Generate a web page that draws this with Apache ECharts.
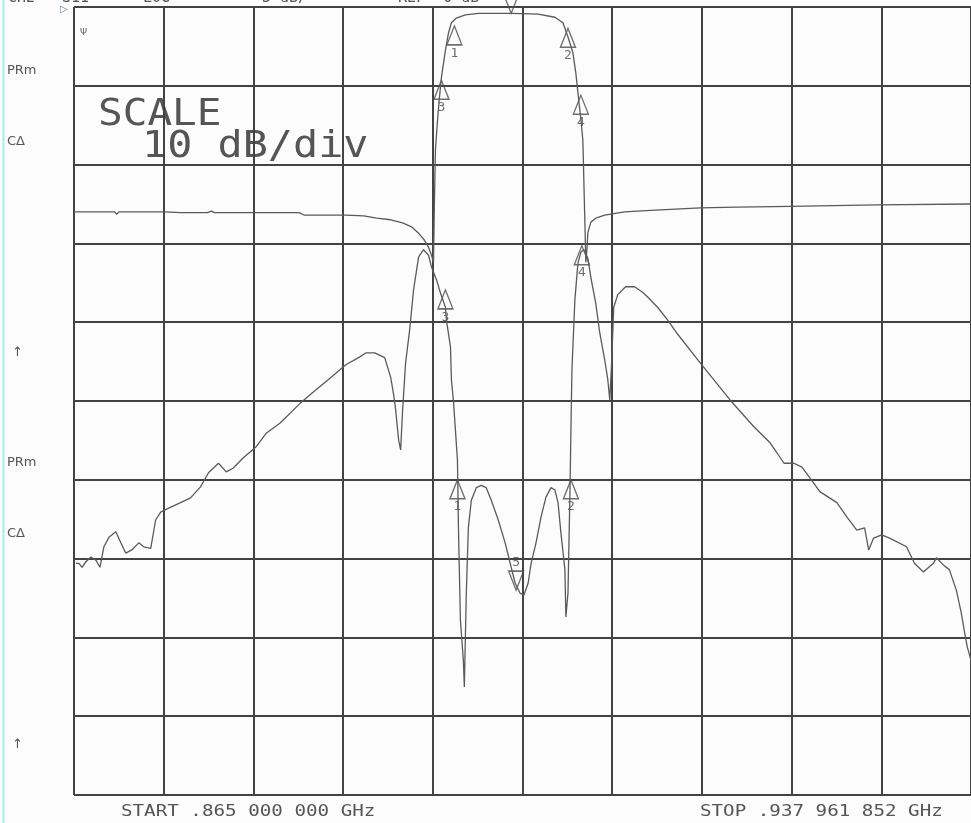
<!DOCTYPE html>
<html><head><meta charset="utf-8">
<script src="https://cdn.jsdelivr.net/npm/echarts@6/dist/echarts.min.js"></script>
<style>html,body{margin:0;padding:0;background:#fcfcfc;} #main{width:971px;height:823px;}</style>
</head><body><div id="main"></div>
<script>
// ---- sweep / labels ----
const START_MHZ = 865.0;
const STOP_MHZ = 937.961852;
const startLabel = 'START .865 000 000 GHz';
const stopLabel = 'STOP .937 961 852 GHz';
const scaleLine1 = 'SCALE';
const scaleLine2 = '10 dB/div';
const sideLabels = ['PRm', 'CΔ', '↑', 'PRm', 'CΔ', '↑'];
const headerLabels = ['CH2', 'S11', 'LOG', '5 dB/', 'REF  0 dB'];

// ---- upper trace (transmission) : frequency MHz / level dB ----
const s21Freq = [865.00, 867.11, 868.32, 868.48, 868.65, 872.37, 873.67, 875.85, 876.18, 876.42,
  883.31, 883.71, 887.11, 888.57, 889.62, 890.76, 891.73, 892.46, 893.03, 893.51,
  893.84, 894.08, 894.24, 894.32, 894.40, 894.57, 894.73, 894.89, 895.21, 895.46,
  895.70, 896.10, 896.83, 897.89, 900.56, 902.75, 904.12, 904.77, 905.18, 905.58,
  905.82, 905.99, 906.23, 906.39, 906.47, 906.55, 906.63, 906.72, 906.80, 907.04,
  907.44, 908.17, 909.79, 911.90, 915.95, 918.95, 923.24, 930.29, 937.96];
const s21Db = [-26.0, -26.0, -26.0, -26.3, -26.0, -26.0, -26.1, -26.1, -25.9, -26.1,
  -26.1, -26.4, -26.4, -26.5, -26.8, -27.0, -27.4, -27.9, -28.7, -29.6,
  -30.5, -31.5, -32.4, -24.5, -18.1, -14.3, -11.4, -8.9, -5.5, -3.3,
  -2.0, -1.4, -1.0, -0.8, -0.8, -0.9, -1.3, -2.0, -3.8, -5.8,
  -8.4, -10.9, -14.3, -16.9, -22.0, -27.0, -32.4, -30.8, -28.6, -27.3,
  -26.8, -26.4, -26.0, -25.8, -25.5, -25.4, -25.3, -25.1, -25.0];

// ---- lower trace (reflection) ----
const s11Freq = [865.16, 865.41, 865.65, 865.97, 866.38, 866.78, 867.11, 867.43, 867.84, 868.40,
  868.81, 869.21, 869.70, 870.27, 870.67, 871.24, 871.64, 872.05, 872.70, 873.67,
  874.48, 875.29, 875.94, 876.75, 877.39, 877.96, 878.77, 879.82, 880.63, 881.77,
  883.39, 884.44, 885.82, 887.11, 888.25, 888.73, 889.46, 890.27, 890.76, 891.00,
  891.16, 891.41, 891.57, 891.73, 891.97, 892.30, 892.62, 893.03, 893.43, 893.59,
  893.84, 894.08, 894.48, 894.81, 895.21, 895.29, 895.62, 895.70, 895.86, 896.19,
  896.27, 896.43, 896.67, 896.75, 896.91, 897.08, 897.32, 897.72, 898.13, 898.53,
  898.94, 899.51, 900.07, 900.48, 900.88, 901.29, 901.61, 901.94, 902.18, 902.58,
  902.99, 903.39, 903.80, 904.12, 904.37, 904.61, 904.93, 905.01, 905.18, 905.26,
  905.34, 905.42, 905.50, 905.74, 905.99, 906.23, 906.47, 906.80, 907.04, 907.44,
  907.77, 908.17, 908.42, 908.58, 908.74, 908.90, 909.23, 909.87, 910.60, 911.25,
  911.66, 912.47, 913.28, 914.09, 915.95, 918.38, 920.32, 921.62, 922.19, 922.75,
  923.56, 924.21, 924.78, 925.67, 927.05, 927.86, 928.67, 929.31, 929.64, 930.04,
  930.69, 931.34, 932.72, 933.36, 934.09, 934.90, 935.15, 935.71, 936.20, 936.77,
  937.17, 937.50, 937.66, 937.96];
const s11Db = [-70.6, -70.6, -71.1, -70.4, -69.8, -70.2, -71.1, -68.5, -67.3, -66.6,
  -68.0, -69.3, -68.9, -68.0, -68.5, -68.7, -65.1, -64.1, -63.6, -62.9,
  -62.3, -60.9, -59.1, -57.9, -59.0, -58.5, -57.2, -55.8, -54.1, -52.8,
  -50.3, -48.9, -47.1, -45.4, -44.4, -43.9, -43.9, -44.5, -47.0, -49.2,
  -51.1, -55.0, -56.2, -51.1, -45.2, -41.0, -35.9, -31.7, -30.8, -30.7,
  -31.5, -33.0, -34.6, -36.3, -38.1, -39.7, -43.1, -47.3, -49.9, -57.5,
  -66.0, -77.8, -82.9, -86.3, -74.4, -66.0, -62.6, -61.0, -60.7, -61.0,
  -62.6, -65.1, -68.0, -70.6, -73.1, -74.4, -74.6, -73.1, -70.6, -68.0,
  -64.7, -62.2, -61.0, -61.3, -62.9, -66.8, -71.4, -77.4, -74.4, -68.0,
  -61.7, -53.7, -46.1, -37.2, -32.5, -31.1, -30.8, -31.9, -34.3, -37.6,
  -41.4, -44.8, -47.3, -49.9, -44.8, -38.1, -36.5, -35.5, -35.5, -36.2,
  -36.8, -38.1, -39.7, -41.5, -45.2, -49.9, -53.3, -55.3, -56.6, -57.9,
  -57.9, -58.4, -59.6, -61.5, -62.9, -64.7, -66.4, -66.1, -68.9, -67.4,
  -67.0, -67.4, -68.5, -70.6, -71.7, -70.6, -69.9, -70.8, -71.4, -74.0,
  -76.9, -79.9, -81.2, -82.9];

// ---- markers ----
const s21MarkerNames = ['1', '2', '3', '4'];
const s21MarkerFreq = [895.94, 905.18, 894.89, 906.23];
const s21MarkerDb = [-2.4, -2.7, -9.3, -11.2];
const s11MarkerNames = ['3', '4', '1', '2'];
const s11MarkerFreq = [895.21, 906.31, 896.19, 905.42];
const s11MarkerDb = [-35.9, -30.3, -60.0, -60.0];
const downMarkerNames = ['', '5'];
const downMarkerFreq = [900.56, 900.96];
const downMarkerDb = [-0.8, -74.0];

// ---- build ----
const zip = (xs, ys) => xs.map((x, i) => [x, ys[i]]);
const mk = (names, xs, ys) => names.map((n, i) => ({ name: n, value: [xs[i], ys[i]] }));

const GRID_COLOR = '#434343';
const TRACE_COLOR = '#5a5a5a';
const INK = '#4a4a4a';

const upTri = 'path://M10,0 L20,26 L0,26 Z';
const downTri = 'path://M0,0 L20,0 L10,26 Z';
const markerLabel = { show: true, formatter: p => p.name, fontFamily: 'DejaVu Sans Mono', fontSize: 13, color: INK };

const chart = echarts.init(document.getElementById('main'), null, { renderer: 'canvas' });
const option = {
  backgroundColor: '#fcfcfc',
  animation: false,
  grid: { left: 74, right: -4, top: 7, bottom: 28, containLabel: false },
  xAxis: [
    { type: 'value', min: START_MHZ, max: STOP_MHZ, show: false },
    { type: 'value', min: 0, max: 10, interval: 1, axisLine: { show: false }, axisTick: { show: false },
      axisLabel: { show: false }, splitLine: { show: true, lineStyle: { color: GRID_COLOR, width: 2 } } }
  ],
  yAxis: [
    { type: 'value', min: -100, max: 0, interval: 10, axisLine: { show: false }, axisTick: { show: false },
      axisLabel: { show: false }, splitLine: { show: true, lineStyle: { color: GRID_COLOR, width: 2 } } }
  ],
  series: [
    { type: 'line', xAxisIndex: 0, yAxisIndex: 0, data: zip(s21Freq, s21Db), showSymbol: false,
      lineStyle: { color: TRACE_COLOR, width: 1.3 }, silent: true },
    { type: 'line', xAxisIndex: 0, yAxisIndex: 0, data: zip(s11Freq, s11Db), showSymbol: false,
      lineStyle: { color: TRACE_COLOR, width: 1.3 }, silent: true },
    { type: 'scatter', xAxisIndex: 0, yAxisIndex: 0, data: mk(s21MarkerNames, s21MarkerFreq, s21MarkerDb).concat(mk(s11MarkerNames, s11MarkerFreq, s11MarkerDb)),
      symbol: upTri, symbolSize: [15, 19], symbolOffset: [0, 9.5],
      itemStyle: { color: 'rgba(0,0,0,0)', borderColor: INK, borderWidth: 1.4 },
      label: Object.assign({ position: 'bottom', distance: 1 }, markerLabel), silent: true },
    { type: 'scatter', xAxisIndex: 0, yAxisIndex: 0, data: mk(downMarkerNames, downMarkerFreq, downMarkerDb),
      symbol: downTri, symbolSize: [15, 19], symbolOffset: [0, -9.5], clip: false,
      itemStyle: { color: 'rgba(0,0,0,0)', borderColor: INK, borderWidth: 1.4 },
      label: Object.assign({ position: 'top', distance: 1 }, markerLabel), silent: true }
  ],
  graphic: [
    { type: 'line', shape: { x1: 3.5, y1: 0, x2: 3.5, y2: 823 }, style: { stroke: '#a8ecec', lineWidth: 2 }, silent: true },
    { type: 'text', x: 98, y: 115, scaleX: 1.08,
      style: { text: scaleLine1, font: '38px "DejaVu Sans Mono"', fill: '#555', textVerticalAlign: 'middle' } },
    { type: 'text', x: 142, y: 147, scaleX: 1.1,
      style: { text: scaleLine2, font: '38px "DejaVu Sans Mono"', fill: '#555', textVerticalAlign: 'middle' } },
    { type: 'text', x: 121, y: 812, scaleX: 1.2,
      style: { text: startLabel, font: '16px "DejaVu Sans Mono"', fill: '#555', textVerticalAlign: 'middle' } },
    { type: 'text', x: 700, y: 812, scaleX: 1.2,
      style: { text: stopLabel, font: '16px "DejaVu Sans Mono"', fill: '#555', textVerticalAlign: 'middle' } },
    { type: 'text', x: 7, y: 71, style: { text: sideLabels[0], font: '13px "DejaVu Sans"', fill: '#555', textVerticalAlign: 'middle' } },
    { type: 'text', x: 7, y: 142, style: { text: sideLabels[1], font: '13px "DejaVu Sans"', fill: '#555', textVerticalAlign: 'middle' } },
    { type: 'text', x: 12, y: 353, style: { text: sideLabels[2], font: '13px "DejaVu Sans"', fill: '#555', textVerticalAlign: 'middle' } },
    { type: 'text', x: 7, y: 463, style: { text: sideLabels[3], font: '13px "DejaVu Sans"', fill: '#555', textVerticalAlign: 'middle' } },
    { type: 'text', x: 7, y: 534, style: { text: sideLabels[4], font: '13px "DejaVu Sans"', fill: '#555', textVerticalAlign: 'middle' } },
    { type: 'text', x: 12, y: 745, style: { text: sideLabels[5], font: '13px "DejaVu Sans"', fill: '#555', textVerticalAlign: 'middle' } },
    { type: 'text', x: 8, y: 6, style: { text: headerLabels[0], font: '15px "DejaVu Sans Mono"', fill: '#555', textVerticalAlign: 'bottom' } },
    { type: 'text', x: 62, y: 6, style: { text: headerLabels[1], font: '15px "DejaVu Sans Mono"', fill: '#555', textVerticalAlign: 'bottom' } },
    { type: 'text', x: 143, y: 6, style: { text: headerLabels[2], font: '15px "DejaVu Sans Mono"', fill: '#555', textVerticalAlign: 'bottom' } },
    { type: 'text', x: 262, y: 6, style: { text: headerLabels[3], font: '15px "DejaVu Sans Mono"', fill: '#555', textVerticalAlign: 'bottom' } },
    { type: 'text', x: 398, y: 6, style: { text: headerLabels[4], font: '15px "DejaVu Sans Mono"', fill: '#555', textVerticalAlign: 'bottom' } },
    { type: 'text', x: 60, y: 9, style: { text: '▷', font: '10px "DejaVu Sans"', fill: '#6b7fa3', textVerticalAlign: 'middle' } },
    { type: 'text', x: 80, y: 33, style: { text: 'Ψ', font: '9px "DejaVu Sans"', fill: '#666', textVerticalAlign: 'middle' } }
  ]
};
chart.setOption(option);
</script>
</body></html>
